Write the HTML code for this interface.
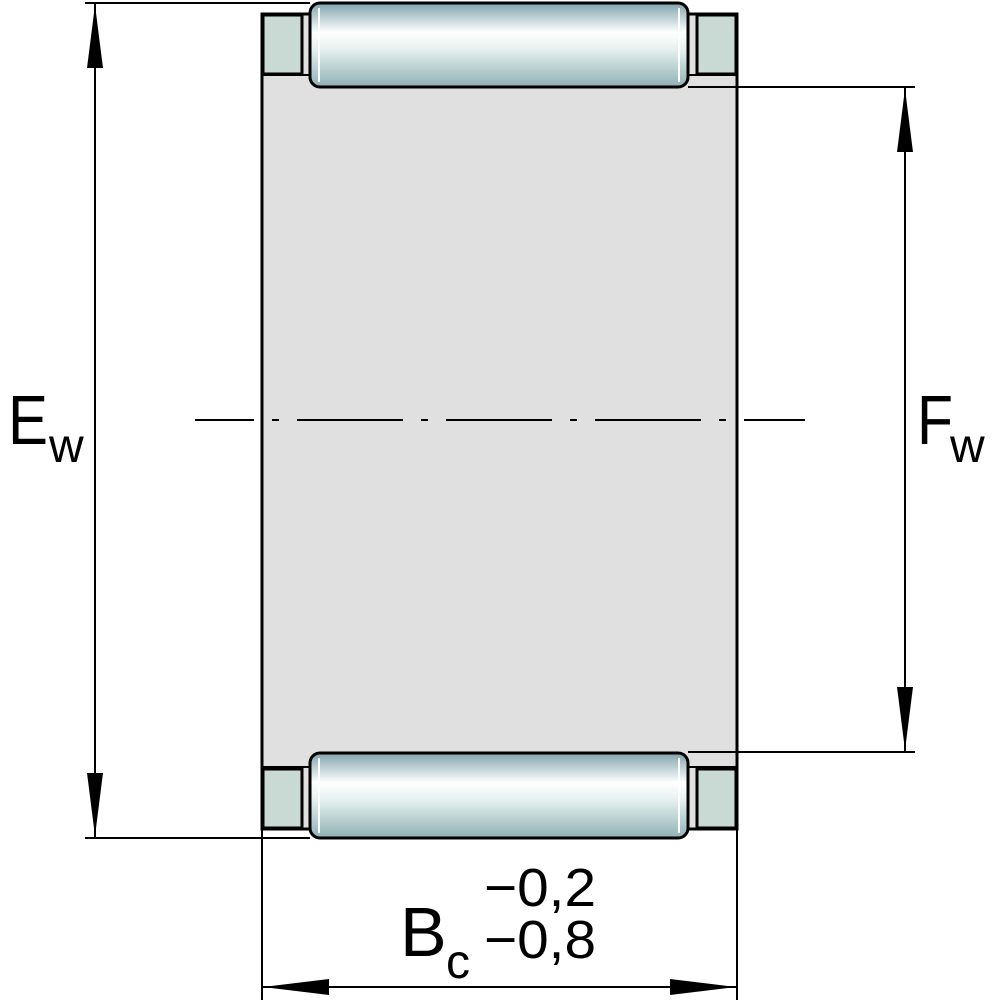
<!DOCTYPE html>
<html><head><style>body{margin:0;background:#fff}svg{display:block}</style></head><body>
<svg width="1000" height="1000" viewBox="0 0 1000 1000" xmlns="http://www.w3.org/2000/svg">
<defs>
<linearGradient id="rg" x1="0" y1="0" x2="0" y2="1">
<stop offset="0" stop-color="#7fa3ad"/><stop offset="0.35" stop-color="#ffffff"/><stop offset="0.55" stop-color="#e6f1ef"/><stop offset="1" stop-color="#8fb0b5"/>
</linearGradient>
</defs>
<rect x="262" y="14" width="475" height="815" fill="#e0e0e0" stroke="#000" stroke-width="3"/>
<line x1="262" y1="75" x2="737" y2="75" stroke="#000" stroke-width="2"/>
<line x1="262" y1="767" x2="737" y2="767" stroke="#000" stroke-width="2"/>
<g fill="#c9d9d3" stroke="#000" stroke-width="3">
<rect x="263" y="15" width="39" height="59"/><rect x="697" y="15" width="39" height="59"/>
<rect x="263" y="769" width="39" height="59"/><rect x="697" y="769" width="39" height="59"/>
</g>
<rect x="310" y="3" width="378" height="84" rx="10" fill="url(#rg)" stroke="#000" stroke-width="3"/>
<rect x="310" y="753" width="378" height="85" rx="10" fill="url(#rg)" stroke="#000" stroke-width="3"/>
<g stroke="#fff" stroke-width="2"><line x1="319" y1="8" x2="319" y2="82"/><line x1="679" y1="8" x2="679" y2="82"/><line x1="319" y1="758" x2="319" y2="833"/><line x1="679" y1="758" x2="679" y2="833"/></g>
<g stroke="#000" stroke-width="2" fill="none">
<line x1="85" y1="3" x2="310" y2="3"/><line x1="85" y1="838" x2="310" y2="838"/>
<line x1="688" y1="87" x2="915" y2="87"/><line x1="688" y1="752" x2="915" y2="752"/>
<line x1="95" y1="3" x2="95" y2="838"/><line x1="905" y1="87" x2="905" y2="752"/>
<line x1="262" y1="829" x2="262" y2="1000"/><line x1="737" y1="829" x2="737" y2="1000"/>
<line x1="262" y1="987" x2="737" y2="987"/>
<line x1="195" y1="420" x2="254" y2="420"/>
<line x1="272" y1="420" x2="805" y2="420" stroke-dasharray="7 18 106 18"/>
</g>
<g fill="#000">
<polygon points="95,5 87,68 103,68"/><polygon points="95,836 87,773 103,773"/>
<polygon points="905,89 897,152 913,152"/><polygon points="905,750 897,687 913,687"/>
<polygon points="263,987 329,979 329,995"/><polygon points="736,987 670,979 670,995"/>
</g>
<g font-family="Liberation Sans, DejaVu Sans, sans-serif" fill="#000">
<text x="8" y="444" font-size="70" textLength="40" lengthAdjust="spacingAndGlyphs">E</text><text x="49" y="462" font-size="48">w</text>
<text x="917" y="444" font-size="70" textLength="36" lengthAdjust="spacingAndGlyphs">F</text><text x="950" y="462" font-size="48">w</text>
<text x="400" y="956" font-size="70">B</text><text x="446" y="978" font-size="48">c</text>
<text x="484" y="906" font-size="54" textLength="112" lengthAdjust="spacingAndGlyphs">−0,2</text>
<text x="484" y="958" font-size="54" textLength="112" lengthAdjust="spacingAndGlyphs">−0,8</text>
</g>
</svg>
</body></html>
